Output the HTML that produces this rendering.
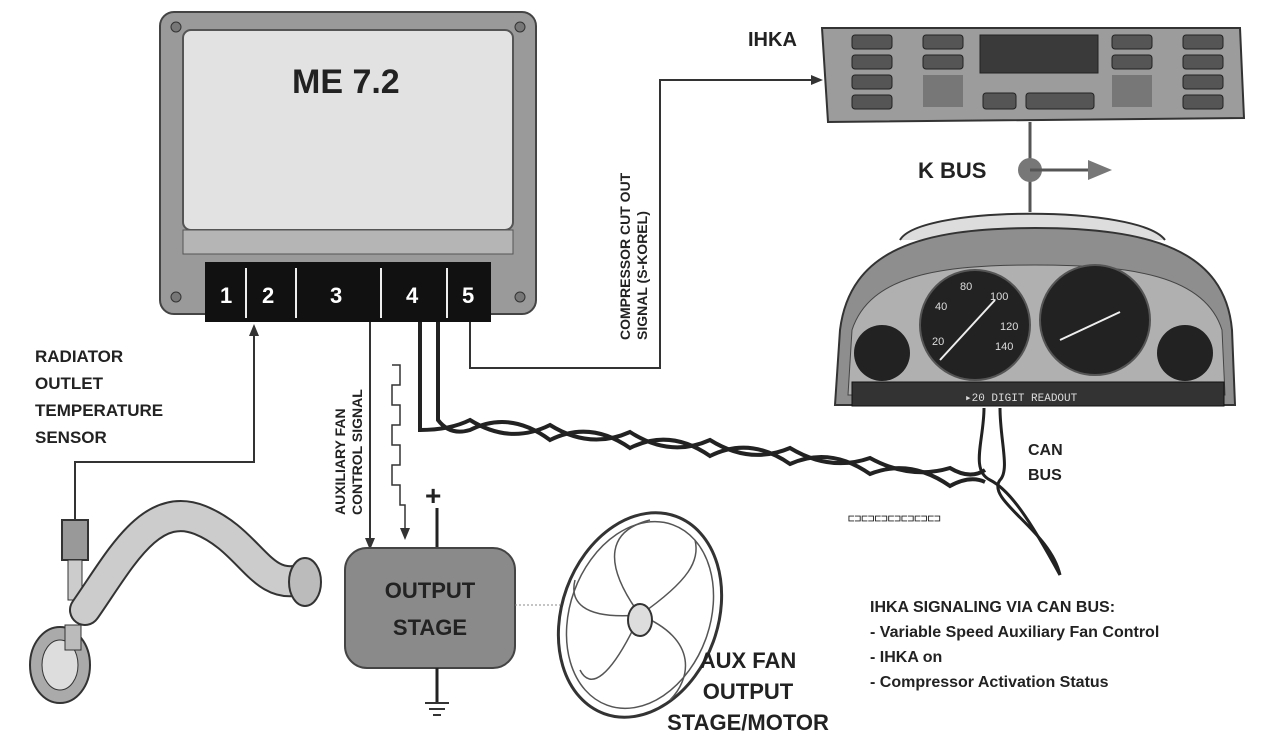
<!DOCTYPE html>
<html><head><meta charset="utf-8"><style>
html,body{margin:0;padding:0;background:#fff}
svg{display:block}
text{font-family:"Liberation Sans",sans-serif;font-weight:bold;fill:#222}
</style></head><body>
<svg width="1277" height="741" viewBox="0 0 1277 741" xmlns="http://www.w3.org/2000/svg">
<!-- ME 7.2 -->
<rect x="160" y="12" width="376" height="302" rx="14" fill="#9a9a9a" stroke="#444" stroke-width="2"/>
<rect x="183" y="30" width="330" height="200" rx="8" fill="#e2e2e2" stroke="#555" stroke-width="2"/>
<rect x="183" y="230" width="330" height="24" fill="#b5b5b5" stroke="#555"/>
<circle cx="176" cy="27" r="5" fill="#777" stroke="#333"/><circle cx="520" cy="27" r="5" fill="#777" stroke="#333"/>
<circle cx="176" cy="297" r="5" fill="#777" stroke="#333"/><circle cx="520" cy="297" r="5" fill="#777" stroke="#333"/>
<text x="292" y="93" font-size="34">ME 7.2</text>
<rect x="205" y="262" width="286" height="60" fill="#111"/>
<g stroke="#eee" stroke-width="2"><line x1="246" y1="268" x2="246" y2="318"/><line x1="296" y1="268" x2="296" y2="318"/><line x1="381" y1="268" x2="381" y2="318"/><line x1="447" y1="268" x2="447" y2="318"/></g>
<text x="220" y="303" font-size="22" style="fill:#fff">1</text><text x="262" y="303" font-size="22" style="fill:#fff">2</text><text x="330" y="303" font-size="22" style="fill:#fff">3</text><text x="406" y="303" font-size="22" style="fill:#fff">4</text><text x="462" y="303" font-size="22" style="fill:#fff">5</text>
<!-- sensor line -->
<polyline points="75,520 75,462 254,462 254,332" fill="none" stroke="#333" stroke-width="2"/>
<polygon points="254,324 249,336 259,336" fill="#333"/>
<text font-size="17"><tspan x="35" y="362">RADIATOR</tspan><tspan x="35" y="389">OUTLET</tspan><tspan x="35" y="416">TEMPERATURE</tspan><tspan x="35" y="443">SENSOR</tspan></text>
<!-- sensor + hose -->
<rect x="62" y="520" width="26" height="40" fill="#999" stroke="#333" stroke-width="2"/>
<rect x="68" y="560" width="14" height="40" fill="#ccc" stroke="#333"/>
<path d="M85,610 C120,560 150,500 200,520 C250,540 260,590 300,580" fill="none" stroke="#333" stroke-width="32" stroke-linecap="round"/>
<path d="M85,610 C120,560 150,500 200,520 C250,540 260,590 300,580" fill="none" stroke="#ccc" stroke-width="28" stroke-linecap="round"/>
<ellipse cx="305" cy="582" rx="16" ry="24" fill="#bbb" stroke="#333" stroke-width="2"/>
<ellipse cx="60" cy="665" rx="30" ry="38" fill="#aaa" stroke="#333" stroke-width="2"/>
<ellipse cx="60" cy="665" rx="18" ry="25" fill="#ddd" stroke="#333"/>
<rect x="65" y="625" width="16" height="25" fill="#bbb" stroke="#333"/>
<!-- aux fan signal -->
<line x1="370" y1="322" x2="370" y2="540" stroke="#333" stroke-width="2"/>
<polygon points="370,550 365,538 375,538" fill="#333"/>
<polyline points="392,365 400,365 400,385 392,385 392,405 400,405 400,425 392,425 392,445 400,445 400,465 392,465 392,485 400,485 400,505 405,505 405,530" fill="none" stroke="#333" stroke-width="1.5"/>
<polygon points="405,540 400,528 410,528" fill="#333"/>
<text font-size="14" transform="translate(345,515) rotate(-90)"><tspan x="0" y="0">AUXILIARY FAN</tspan><tspan x="0" y="17">CONTROL SIGNAL</tspan></text>
<!-- output stage -->
<line x1="437" y1="508" x2="437" y2="548" stroke="#222" stroke-width="3"/>
<text x="425" y="505" font-size="28">+</text>
<rect x="345" y="548" width="170" height="120" rx="22" fill="#8a8a8a" stroke="#444" stroke-width="2"/>
<text x="430" y="598" font-size="22" text-anchor="middle">OUTPUT</text>
<text x="430" y="635" font-size="22" text-anchor="middle">STAGE</text>
<line x1="437" y1="668" x2="437" y2="702" stroke="#222" stroke-width="3"/>
<g stroke="#333" stroke-width="2"><line x1="425" y1="703" x2="449" y2="703"/><line x1="429" y1="709" x2="445" y2="709"/><line x1="433" y1="715" x2="441" y2="715"/></g>
<line x1="515" y1="605" x2="560" y2="605" stroke="#888" stroke-width="1" stroke-dasharray="2,2"/>
<!-- fan -->
<ellipse cx="640" cy="615" rx="78" ry="105" transform="rotate(20 640 615)" fill="#fff" stroke="#333" stroke-width="3"/>
<ellipse cx="640" cy="615" rx="70" ry="96" transform="rotate(20 640 615)" fill="none" stroke="#555" stroke-width="1.5"/>
<g fill="none" stroke="#555" stroke-width="1.5">
<path d="M640,615 C600,560 610,530 650,520"/><path d="M640,615 C690,580 700,560 695,540"/><path d="M640,615 C700,640 690,680 670,700"/><path d="M640,615 C610,680 590,690 580,670"/><path d="M640,615 C580,620 570,600 575,580"/></g>
<ellipse cx="640" cy="620" rx="12" ry="16" fill="#ddd" stroke="#333" stroke-width="2"/>
<text font-size="22" text-anchor="middle"><tspan x="748" y="668">AUX FAN</tspan><tspan x="748" y="699">OUTPUT</tspan><tspan x="748" y="730">STAGE/MOTOR</tspan></text>
<!-- compressor line -->
<polyline points="470,322 470,368 660,368 660,80 815,80" fill="none" stroke="#333" stroke-width="2"/>
<polygon points="823,80 811,75 811,85" fill="#333"/>
<text font-size="14" transform="translate(630,340) rotate(-90)"><tspan x="0" y="0">COMPRESSOR CUT OUT</tspan><tspan x="0" y="17">SIGNAL (S-KOREL)</tspan></text>
<!-- IHKA -->
<text x="748" y="46" font-size="20">IHKA</text>
<path d="M822,28 L1240,28 L1244,118 L828,122 Z" fill="#9c9c9c" stroke="#333" stroke-width="2"/>
<g fill="#555" stroke="#222"><rect x="852" y="35" width="40" height="14" rx="3"/><rect x="852" y="55" width="40" height="14" rx="3"/><rect x="852" y="75" width="40" height="14" rx="3"/><rect x="852" y="95" width="40" height="14" rx="3"/>
<rect x="923" y="35" width="40" height="14" rx="3"/><rect x="923" y="55" width="40" height="14" rx="3"/>
<rect x="1112" y="35" width="40" height="14" rx="3"/><rect x="1112" y="55" width="40" height="14" rx="3"/>
<rect x="1183" y="35" width="40" height="14" rx="3"/><rect x="1183" y="55" width="40" height="14" rx="3"/><rect x="1183" y="75" width="40" height="14" rx="3"/><rect x="1183" y="95" width="40" height="14" rx="3"/>
<rect x="983" y="93" width="33" height="16" rx="3"/><rect x="1026" y="93" width="68" height="16" rx="3"/></g>
<rect x="980" y="35" width="118" height="38" fill="#3a3a3a" stroke="#222"/>
<g fill="#777"><rect x="923" y="75" width="40" height="32"/><rect x="1112" y="75" width="40" height="32"/></g>
<!-- K bus -->
<line x1="1030" y1="122" x2="1030" y2="212" stroke="#555" stroke-width="3"/>
<circle cx="1030" cy="170" r="12" fill="#777"/>
<line x1="1030" y1="170" x2="1090" y2="170" stroke="#555" stroke-width="3"/>
<polygon points="1112,170 1088,160 1088,180" fill="#777"/>
<text x="918" y="178" font-size="22">K BUS</text>
<!-- cluster -->
<path d="M900,240 C920,205 1140,205 1165,240" fill="#ddd" stroke="#333" stroke-width="2"/>
<path d="M835,405 L840,330 C850,250 920,228 1035,228 C1150,228 1225,250 1232,330 L1235,405 Z" fill="#8e8e8e" stroke="#333" stroke-width="2"/>
<path d="M848,395 L852,330 C870,275 940,265 1035,265 C1130,265 1205,275 1222,330 L1225,395 Z" fill="#b0b0b0" stroke="#444"/>
<circle cx="975" cy="325" r="55" fill="#222" stroke="#555" stroke-width="2"/>
<circle cx="1095" cy="320" r="55" fill="#222" stroke="#555" stroke-width="2"/>
<circle cx="882" cy="353" r="28" fill="#222"/><circle cx="1185" cy="353" r="28" fill="#222"/>
<text x="960" y="290" font-size="11" style="font-weight:normal;fill:#ddd">80</text><text x="990" y="300" font-size="11" style="font-weight:normal;fill:#ddd">100</text><text x="1000" y="330" font-size="11" style="font-weight:normal;fill:#ddd">120</text><text x="995" y="350" font-size="11" style="font-weight:normal;fill:#ddd">140</text><text x="935" y="310" font-size="11" style="font-weight:normal;fill:#ddd">40</text><text x="932" y="345" font-size="11" style="font-weight:normal;fill:#ddd">20</text>
<line x1="940" y1="360" x2="995" y2="300" stroke="#eee" stroke-width="2"/>
<line x1="1060" y1="340" x2="1120" y2="312" stroke="#eee" stroke-width="2"/>
<rect x="852" y="382" width="372" height="24" fill="#333" stroke="#111"/>
<text x="965" y="401" font-size="11" style="font-weight:normal;fill:#ddd;font-family:'Liberation Mono',monospace">▸20 DIGIT READOUT</text>
<!-- CAN wires -->
<path d="M984,408 C984,440 970,470 990,480 C1010,490 1030,520 1060,575" fill="none" stroke="#222" stroke-width="3"/>
<path d="M1000,408 C1000,440 1010,470 1000,480 C985,500 1050,530 1060,575" fill="none" stroke="#222" stroke-width="3"/>
<text font-size="16"><tspan x="1028" y="455">CAN</tspan><tspan x="1028" y="480">BUS</tspan></text>
<!-- twisted pair -->
<path d="M420,322 L420,430 Q450,430 470,420 Q510,445 550,425 Q590,450 630,432 Q670,458 710,440 Q750,465 790,448 Q830,472 870,458 Q910,480 950,468 Q970,480 985,470" fill="none" stroke="#222" stroke-width="4"/>
<path d="M438,322 L438,420 Q450,436 470,430 Q510,410 550,440 Q590,420 630,448 Q670,428 710,456 Q750,436 790,464 Q830,446 870,474 Q910,458 950,486 Q970,475 985,482" fill="none" stroke="#222" stroke-width="4"/>
<text x="848" y="522" font-size="11" style="font-weight:normal;font-family:'Liberation Mono',monospace">⊏⊐⊏⊐⊏⊐⊏⊐⊏⊐⊏⊐⊏⊐</text>
<!-- text -->
<text font-size="16"><tspan x="870" y="612">IHKA  SIGNALING VIA CAN BUS:</tspan><tspan x="870" y="637">- Variable Speed Auxiliary Fan Control</tspan><tspan x="870" y="662">- IHKA on</tspan><tspan x="870" y="687">- Compressor Activation Status</tspan></text>
</svg>
</body></html>
